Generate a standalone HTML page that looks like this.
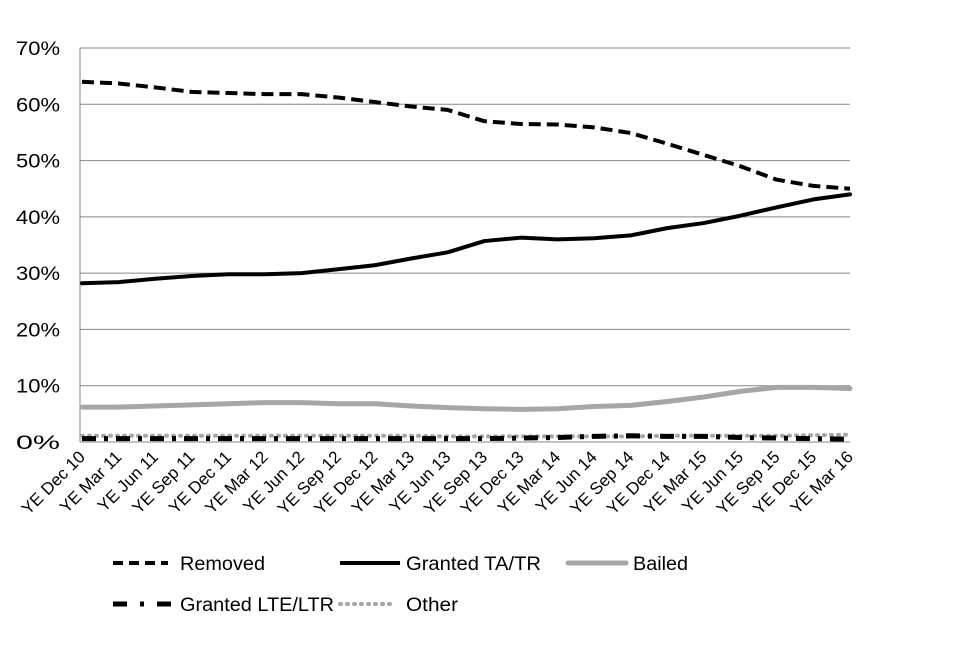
<!DOCTYPE html>
<html><head><meta charset="utf-8"><style>
body{margin:0;background:#fff;}
svg text{font-family:"Liberation Sans",sans-serif;fill:#000;}
</style></head><body>
<svg width="960" height="640" id="c"></svg>
<script>
const categories=["YE Dec 10","YE Mar 11","YE Jun 11","YE Sep 11","YE Dec 11","YE Mar 12","YE Jun 12","YE Sep 12","YE Dec 12","YE Mar 13","YE Jun 13","YE Sep 13","YE Dec 13","YE Mar 14","YE Jun 14","YE Sep 14","YE Dec 14","YE Mar 15","YE Jun 15","YE Sep 15","YE Dec 15","YE Mar 16"];
const removed=[64,63.7,63,62.2,62,61.8,61.8,61.2,60.4,59.6,59,57,56.5,56.4,55.9,54.9,53,51,49,46.6,45.5,45];
const grantedTA=[28.2,28.4,29,29.5,29.8,29.8,30,30.7,31.4,32.6,33.7,35.7,36.3,36,36.2,36.7,38,38.9,40.2,41.7,43.1,44];
const bailed=[6.2,6.2,6.4,6.6,6.8,7,7,6.8,6.8,6.4,6.1,5.9,5.8,5.9,6.3,6.5,7.2,8,9,9.7,9.7,9.5];
const grantedLTE=[0.6,0.6,0.6,0.6,0.6,0.6,0.6,0.6,0.6,0.6,0.6,0.6,0.7,0.8,1.0,1.1,1.0,1.0,0.8,0.7,0.6,0.5];
const other=[1.1,1.1,1.1,1.1,1.1,1.1,1.1,1.1,1.1,1.1,1.0,1.0,1.0,1.0,1.0,1.0,1.1,1.1,1.1,1.1,1.2,1.3];
const yTicks=[0,10,20,30,40,50,60,70];
const svg=document.getElementById('c');const NS='http://www.w3.org/2000/svg';
const X0=82,X1=850,Y0=442,Y70=48;
const x=i=>X0+i*(X1-X0)/(categories.length-1);
const y=v=>Y0-v*(Y0-Y70)/70;
function mk(t,a){const e=document.createElementNS(NS,t);for(const k in a)e.setAttribute(k,a[k]);svg.appendChild(e);return e;}
yTicks.forEach(v=>{
 if(v>0){const g=mk('line',{x1:80,x2:850,y1:y(v),y2:y(v),stroke:'#868686','stroke-width':1});
 
 }
 const t=mk('text',{x:60,y:y(v)+7,'text-anchor':'end','font-size':19,textLength:44,lengthAdjust:'spacingAndGlyphs'});t.textContent=v+'%';
 
 
});
const ax=mk('line',{x1:80,x2:80,y1:48,y2:442,stroke:'#868686'});


const bx=mk('line',{x1:80,x2:850,y1:442,y2:442,stroke:'#868686'});


categories.forEach((c,i)=>{
 const t=mk('text',{x:x(i)+4,y:458,'text-anchor':'end','font-size':17,transform:`rotate(-45 ${x(i)+4} 458)`});t.textContent=c;
 
 
});
const series=[
 {d:other,n:'other-line',s:'#a6a6a6',w:4,da:'1 6',cap:'round'},
 {d:grantedLTE,n:'granted-lte-line',s:'#000',w:5,da:'14 8 4 8',cap:'butt'},
 {d:bailed,n:'bailed-line',s:'#a6a6a6',w:5,da:'',cap:'round'},
 {d:grantedTA,n:'granted-ta-line',s:'#000',w:4,da:'',cap:'round'},
 {d:removed,n:'removed-line',s:'#000',w:4,da:'12 6',cap:'butt'}];
series.forEach(s=>{
 const p=mk('polyline',{points:s.d.map((v,i)=>x(i)+','+y(v)).join(' '),fill:'none',stroke:s.s,'stroke-width':s.w,'stroke-dasharray':s.da,'stroke-linecap':s.cap,'stroke-linejoin':'round'});
 
 
});
const leg=[
 {n:'Removed',x:113,x2:168,tx:180,tl:85,y:563,s:'#000',w:4,da:'10 6',cap:'butt'},
 {n:'Granted TA/TR',x:340,x2:400,tx:406,tl:135,y:563,s:'#000',w:4,da:'',cap:'butt'},
 {n:'Bailed',x:568,x2:626,tx:633,tl:55,y:563,s:'#a6a6a6',w:5,da:'',cap:'round'},
 {n:'Granted LTE/LTR',x:113,x2:176,tx:180,tl:154,y:604,s:'#000',w:5,da:'14 13 4 13',cap:'butt'},
 {n:'Other',x:340,x2:395,tx:406,tl:52,y:604,s:'#a6a6a6',w:4,da:'1 6',cap:'round'}];
leg.forEach(l=>{
 const ln=mk('line',{x1:l.x,x2:l.x2,y1:l.y,y2:l.y,stroke:l.s,'stroke-width':l.w,'stroke-dasharray':l.da,'stroke-linecap':l.cap});
 
 
 const t=mk('text',{x:l.tx,y:l.y+7,'font-size':19,textLength:l.tl,lengthAdjust:'spacingAndGlyphs'});t.textContent=l.n;
 
 
});
</script>
</body></html>
